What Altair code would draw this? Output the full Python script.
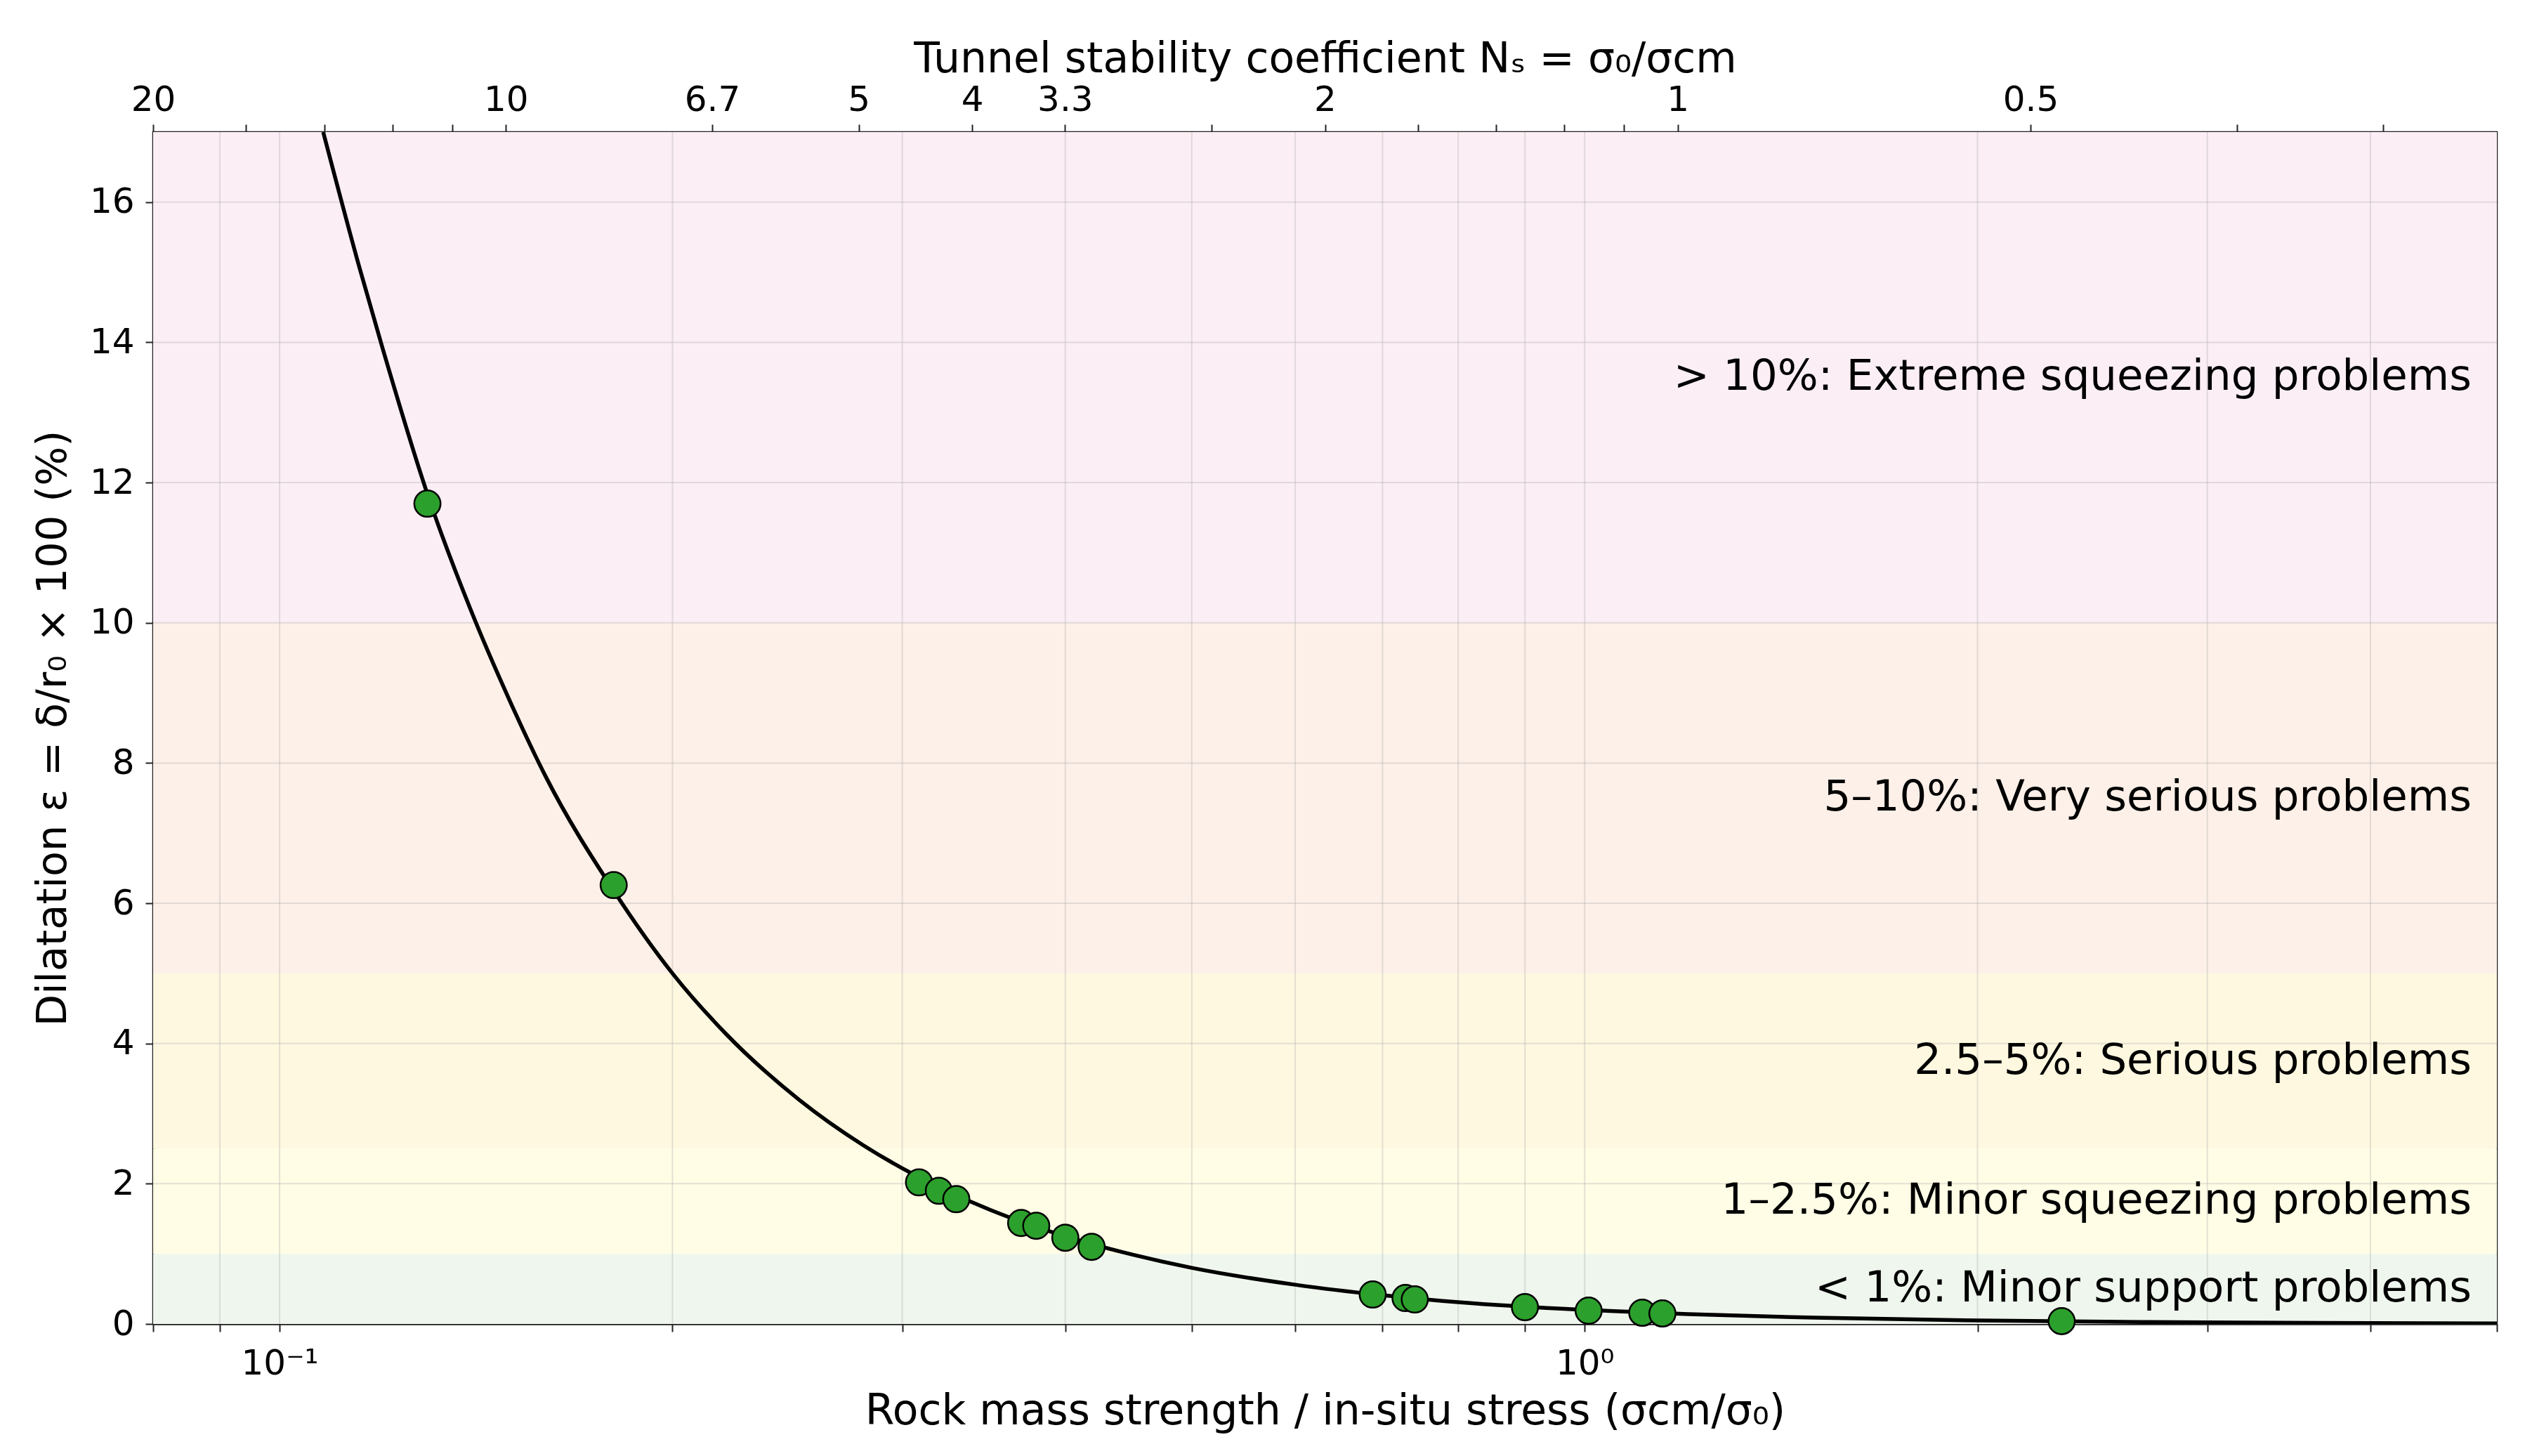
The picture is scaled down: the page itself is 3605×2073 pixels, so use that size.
import altair as alt
import pandas as pd

# ---------------- data ----------------
# measured cases (sigma_cm/sigma_0, strain %)
pt_x = [0.1298, 0.1803, 0.309, 0.320, 0.330, 0.370, 0.380, 0.400, 0.419,
        0.688, 0.729, 0.741, 0.900, 1.007, 1.107, 1.147, 2.32]
pt_y = [11.70, 6.26, 2.02, 1.90, 1.78, 1.44, 1.40, 1.23, 1.10,
        0.42, 0.37, 0.35, 0.24, 0.19, 0.16, 0.15, 0.04]

# trend curve
curve_x = [0.108, 0.115, 0.12, 0.13, 0.14, 0.15, 0.16, 0.18, 0.2, 0.22, 0.25,
           0.28, 0.3, 0.35, 0.4, 0.45, 0.5, 0.6, 0.7, 0.8, 1.0, 1.2, 1.5,
           2.0, 2.5, 3.0, 4.0, 5.0]
curve_y = [17.0, 15.1, 13.9, 11.8, 10.2, 8.9, 7.8, 6.2, 5.0, 4.13, 3.2,
           2.55, 2.22, 1.63, 1.25, 0.99, 0.80, 0.56, 0.41, 0.31, 0.20, 0.14,
           0.089, 0.05, 0.032, 0.022, 0.0125, 0.008]

# squeezing classes
band_lo = [0, 1, 2.5, 5, 10]
band_hi = [1, 2.5, 5, 10, 17]
band_col = ["#eff6ed", "#fffde5", "#fef8e0", "#fdf0e8", "#fbeef5"]
band_lab = ["< 1%: Minor support problems",
            "1\u20132.5%: Minor squeezing problems",
            "2.5\u20135%: Serious problems",
            "5\u201310%: Very serious problems",
            "> 10%: Extreme squeezing problems"]
band_lab_y = [0.5, 1.75, 3.75, 7.5, 13.5]
label_x = [5.0] * 5

# axes
x_ticks = [0.08, 0.09, 0.1, 0.2, 0.3, 0.4, 0.5, 0.6, 0.7, 0.8, 0.9, 1, 2, 3, 4, 5]
x_grid = [0.09, 0.1, 0.2, 0.3, 0.4, 0.5, 0.6, 0.7, 0.8, 0.9, 1, 2, 3, 4]
y_ticks = [0, 2, 4, 6, 8, 10, 12, 14, 16]
y_grid = [2, 4, 6, 8, 10, 12, 14, 16]
top_major = [20, 10, 20 / 3, 5, 4, 10 / 3, 2, 1, 0.5]
top_major_lab = ["20", "10", "6.7", "5", "4", "3.3", "2", "1", "0.5"]
top_minor = [1 / 0.06, 1 / 0.07, 1 / 0.08, 1 / 0.09, 2.5, 1 / 0.6, 1 / 0.7,
             1 / 0.8, 1 / 0.9, 1 / 3, 0.25]

FONT = "DejaVu Sans"
AX = "#222222"

# ---------------- frames ----------------
bands = pd.DataFrame({"y": band_lo, "y2": band_hi, "c": band_col})
labels = pd.DataFrame({"x": label_x, "y": band_lab_y, "t": band_lab})
pts = pd.DataFrame({"x": pt_x, "y": pt_y})
curve = pd.DataFrame({"x": curve_x, "y": curve_y})
vg = pd.DataFrame({"x": x_grid})
hg = pd.DataFrame({"y": y_grid})
top_vals = top_major + top_minor
top_df = pd.DataFrame({"ns": top_vals})

xscale = alt.Scale(type="log", domain=[0.08, 5], nice=False)
yscale = alt.Scale(domain=[0, 17], nice=False, zero=False)

xaxis = alt.Axis(
    values=x_ticks,
    labelExpr="abs(datum.value-0.1)<1e-9 ? '10\u207b\u00b9' : (abs(datum.value-1)<1e-9 ? '10\u2070' : '')",
    title="Rock mass strength / in-situ stress (\u03c3cm/\u03c3\u2080)",
    grid=False, tickSize=11, tickWidth=2, tickColor=AX,
    domainColor=AX, domainWidth=2.5,
    labelFontSize=50, titleFontSize=60, labelFont=FONT, titleFont=FONT,
    labelColor="black", titleColor="black", titleFontWeight="normal",
    labelPadding=20, titlePadding=14, labelFlush=False, labelOverlap=False,
)
yaxis = alt.Axis(
    values=y_ticks, title="Dilatation \u03b5 = \u03b4/r\u2080 \u00d7 100 (%)",
    grid=False, tickSize=11, tickWidth=2, tickColor=AX,
    domainColor=AX, domainWidth=2.5,
    labelFontSize=50, titleFontSize=59, labelFont=FONT, titleFont=FONT,
    labelColor="black", titleColor="black", titleFontWeight="normal",
    labelPadding=16, titlePadding=22, labelFlush=False, labelOverlap=False,
)

X = alt.X("x:Q", scale=xscale, axis=xaxis)
Y = alt.Y("y:Q", scale=yscale, axis=yaxis)

band_layer = alt.Chart(bands).mark_rect().encode(
    y=Y, y2="y2:Q", color=alt.Color("c:N", scale=None)
)
vgrid = alt.Chart(vg).mark_rule(color="#b0b0b0", opacity=0.35, strokeWidth=2).encode(x=X)
hgrid = alt.Chart(hg).mark_rule(color="#b0b0b0", opacity=0.35, strokeWidth=2).encode(y=Y)
line = alt.Chart(curve).mark_line(color="black", strokeWidth=5.5, interpolate="monotone", clip=True).encode(x=X, y=Y)
points = alt.Chart(pts).mark_circle(size=1400, color="#2ca02c", opacity=1, stroke="black", strokeWidth=2.5).encode(x=X, y=Y)
texts = alt.Chart(labels).mark_text(align="right", baseline="middle", fontSize=61, font=FONT, color="black", dx=-36).encode(
    x=X, y=Y, text="t:N"
)

main = alt.layer(band_layer, vgrid, hgrid, line, points, texts)

top_expr = " : ".join(
    [f"abs(datum.value-{v!r})<1e-6 ? '{l}'" for v, l in zip(top_major, top_major_lab)]
) + " : ''"

top_layer = alt.Chart(top_df).mark_point(opacity=0).encode(
    x=alt.X("ns:Q",
            scale=alt.Scale(type="log", domain=[0.2, 20], nice=False, reverse=True),
            axis=alt.Axis(orient="top", values=top_vals, labelExpr=top_expr,
                          title="Tunnel stability coefficient N\u209b = \u03c3\u2080/\u03c3cm",
                          grid=False, tickSize=11, tickWidth=2, tickColor=AX,
                          domainColor=AX, domainWidth=2.5,
                          labelFontSize=50, titleFontSize=60, labelFont=FONT, titleFont=FONT,
                          labelColor="black", titleColor="black", titleFontWeight="normal",
                          labelPadding=10, titlePadding=2, labelFlush=False, labelOverlap=False))
)

chart = alt.layer(main, top_layer).resolve_scale(x="independent").properties(
    width=3337, height=1697,
    autosize=alt.AutoSizeParams(type="none"),
    padding={"left": 210, "top": 180, "right": 42, "bottom": 180},
    background="white",
).configure_view(stroke=AX, strokeWidth=2.5)

chart.save("out.html", embed_options={"renderer": "svg", "actions": False})
